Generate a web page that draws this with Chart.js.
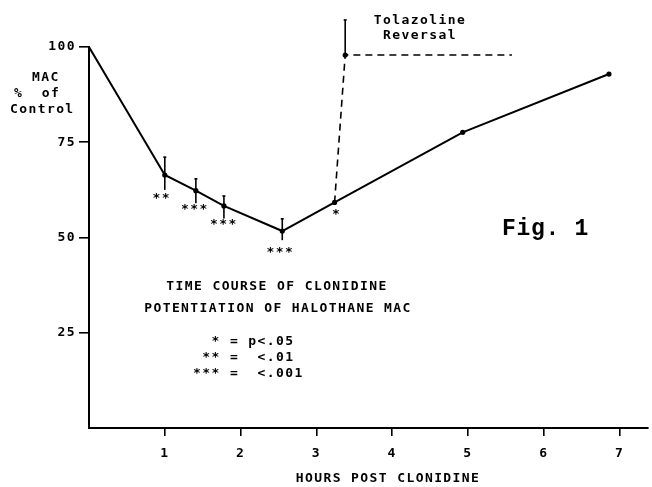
<!DOCTYPE html>
<html><head><meta charset="utf-8">
<script src="https://cdn.jsdelivr.net/npm/chart.js@4/dist/chart.umd.min.js"></script>
<style>html,body{margin:0;padding:0;background:#fff}#wrap{width:652px;height:487px}</style>
</head><body><div id="wrap"><canvas id="c" width="652" height="487"></canvas></div>
<script>
// ---- data ----
const hours        = [0, 1.0, 1.41, 1.78, 2.55, 3.24, 4.93, 6.86];
const macPct       = [100, 66.4, 62.3, 58.3, 51.7, 59.2, 77.6, 92.9];
const errHigh      = [null, 71.1, 65.4, 60.9, 54.9, null, null, null];
const errLow       = [null, 62.5, 59.0, 55.0, 49.3, null, null, null];
const significance = ['', '**', '***', '***', '***', '*', '', ''];
const tolHours     = [3.24, 3.38, 5.58];
const tolMac       = [59.2, 97.9, 97.9];
const tolErrHigh   = [null, 107.1, null];
const xTicks       = [1, 2, 3, 4, 5, 6, 7];
const yTicks       = [25, 50, 75, 100];
const xTitle       = 'HOURS POST CLONIDINE';
const yTitle       = ['MAC', '%  of', 'Control'];
const tolLabel     = ['Tolazoline', 'Reversal'];
const chartTitle   = ['TIME COURSE OF CLONIDINE', 'POTENTIATION OF HALOTHANE MAC'];
const legendLines  = ['  * = p<.05', ' ** =  <.01', '*** =  <.001'];
const figLabel     = 'Fig. 1';

const MONO = '"DejaVu Sans Mono", "Liberation Mono", monospace';
const FONT = 'bold 13px ' + MONO;
const SPACING = '1.4px';

const annot = {
  id: 'annot',
  beforeDraw(chart) { chart.ctx.letterSpacing = SPACING; },
  afterDatasetsDraw(chart) {
    const { ctx, scales: { x, y } } = chart;
    ctx.save();
    ctx.letterSpacing = SPACING;
    ctx.strokeStyle = '#000'; ctx.fillStyle = '#000'; ctx.lineWidth = 1.6;
    const bar = (xv, lo, hi) => {
      const px = x.getPixelForValue(xv);
      const yh = y.getPixelForValue(hi), yl = y.getPixelForValue(lo);
      ctx.beginPath(); ctx.moveTo(px, yl); ctx.lineTo(px, yh); ctx.stroke();
      ctx.beginPath(); ctx.moveTo(px - 1.5, yh); ctx.lineTo(px + 1.5, yh); ctx.stroke();
    };
    hours.forEach((h, i) => { if (errHigh[i] != null) bar(h, errLow[i], errHigh[i]); });
    tolHours.forEach((h, i) => { if (tolErrHigh[i] != null) bar(h, tolMac[i], tolErrHigh[i]); });

    // significance stars under points
    const starDy = [0, 24, 19, 19, 22, 12, 0, 0];
    const starDx = [0, -3, -1, 0, -2, 2, 0, 0];
    ctx.font = FONT; ctx.textAlign = 'center'; ctx.textBaseline = 'middle';
    hours.forEach((h, i) => {
      if (!significance[i]) return;
      ctx.fillText(significance[i], x.getPixelForValue(h) + starDx[i], y.getPixelForValue(macPct[i]) + starDy[i]);
    });

    // texts
    ctx.textAlign = 'center';
    ctx.fillText(tolLabel[0], 420, 21);
    ctx.fillText(tolLabel[1], 420, 36);
    ctx.fillText(chartTitle[0], 277, 287);
    ctx.fillText(chartTitle[1], 278, 309);
    ctx.fillText(xTitle, 388, 479);
    ctx.textAlign = 'left';
    legendLines.forEach((t, i) => ctx.fillText(t, 193, 342 + i * 16));
    ctx.fillText(yTitle[0], 32, 78);
    ctx.fillText(yTitle[1], 14, 94);
    ctx.fillText(yTitle[2], 10, 110);

    ctx.letterSpacing = '0.7px';
    ctx.font = 'bold 23px "Liberation Mono", "DejaVu Sans Mono", monospace';
    ctx.fillText(figLabel, 502, 229);
    ctx.restore();
  }
};

const tickFont = { family: MONO, size: 13, weight: 'bold' };

new Chart(document.getElementById('c'), {
  type: 'line',
  data: {
    datasets: [
      {
        data: hours.map((h, i) => ({ x: h, y: macPct[i] })),
        borderColor: '#000', borderWidth: 2, tension: 0,
        pointRadius: hours.map((h, i) => (i === 0 ? 0 : 2.6)),
        pointBackgroundColor: '#000', pointBorderWidth: 0
      },
      {
        data: tolHours.map((h, i) => ({ x: h, y: tolMac[i] })),
        borderColor: '#000', borderWidth: 1.6, borderDash: [7, 5], tension: 0,
        pointRadius: tolHours.map((h, i) => (i === 1 ? 2.6 : 0)),
        pointBackgroundColor: '#000', pointBorderWidth: 0
      }
    ]
  },
  options: {
    responsive: false, animation: false, devicePixelRatio: 1,
    layout: { padding: { top: 47, right: 1, left: 0, bottom: 0 } },
    plugins: { legend: { display: false }, tooltip: { enabled: false } },
    scales: {
      x: {
        type: 'linear', min: 0, max: 7.375,
        afterBuildTicks: s => { s.ticks = xTicks.map(v => ({ value: v })); },
        afterFit: s => { s.height = 59; },
        grid: { drawOnChartArea: false, drawTicks: true, tickLength: 8, color: '#000', lineWidth: 1.6 },
        border: { display: true, color: '#000', width: 2 },
        ticks: { color: '#000', font: tickFont, padding: 10, maxRotation: 0, autoSkip: false }
      },
      y: {
        type: 'linear', min: 0, max: 100,
        afterBuildTicks: s => { s.ticks = yTicks.map(v => ({ value: v })); },
        afterFit: s => { s.width = 89; },
        grid: { drawOnChartArea: false, drawTicks: true, tickLength: 10, color: '#000', lineWidth: 1.6 },
        border: { display: true, color: '#000', width: 2 },
        ticks: { color: '#000', font: tickFont, padding: 3 }
      }
    }
  },
  plugins: [annot]
});
</script>
</body></html>
